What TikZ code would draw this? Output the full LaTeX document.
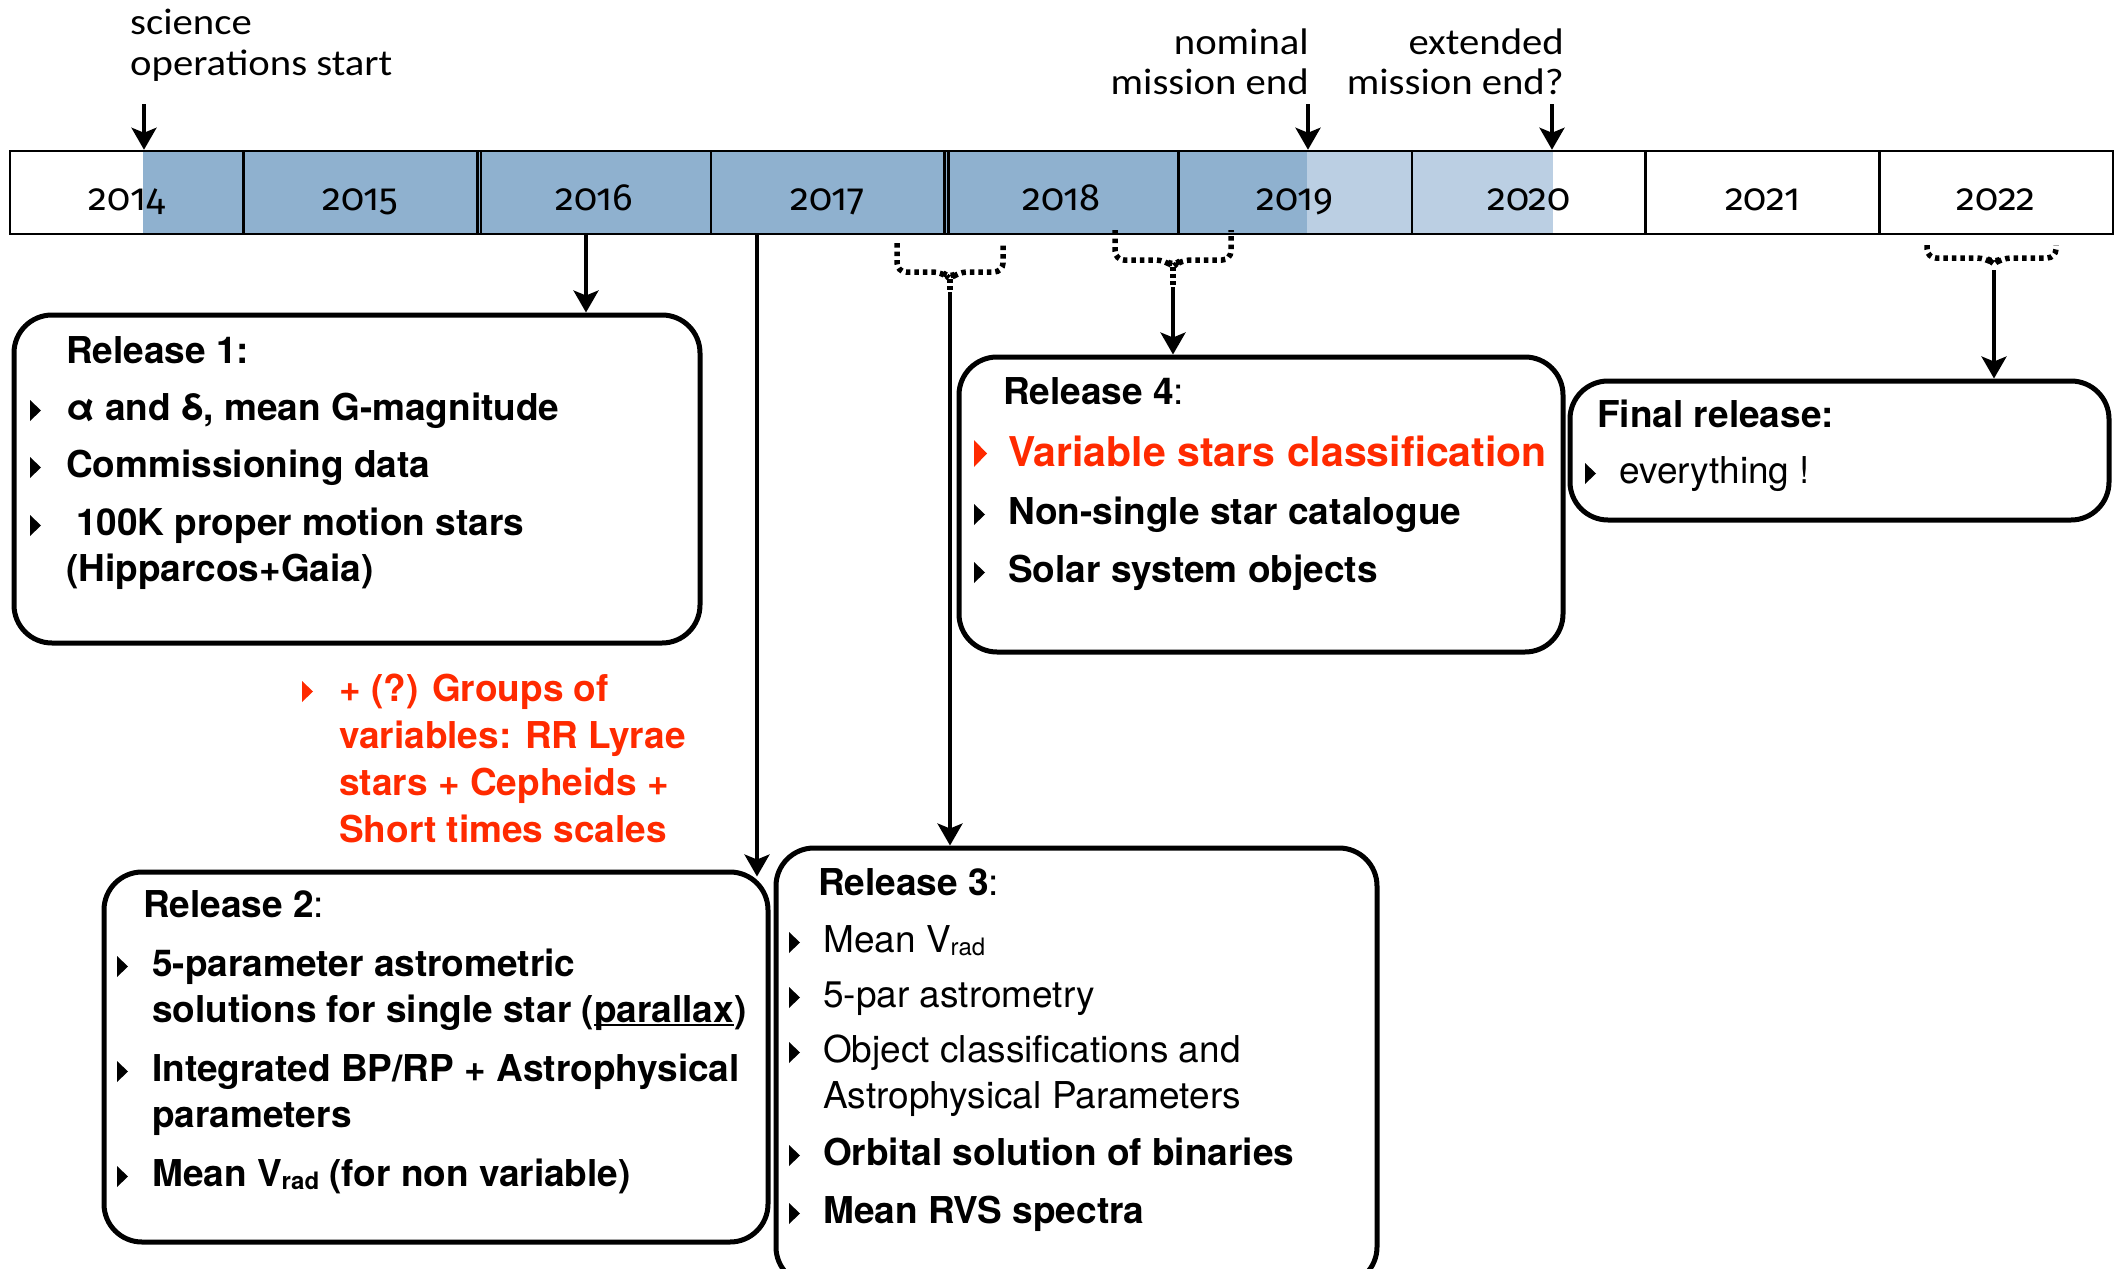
\documentclass[tikz,border=0pt]{standalone}
\usepackage{fontspec}
\usetikzlibrary{arrows.meta,calc}
\newfontfamily\heros{TeX Gyre Heros}
\newfontfamily\corb[FakeStretch=1.1]{Carlito}
\newfontfamily\yearfont[Numbers=OldStyle]{Fira Sans}
\definecolor{opsblue}{HTML}{8FB1CF}
\definecolor{extblue}{HTML}{BBCFE3}
\definecolor{hilite}{HTML}{FF2A00}
% small right-pointing triangle used as list bullet: [colour]{x}{baseline}
\newcommand\bul[3][black]{\fill[#1] (#2,#3+1) -- (#2,#3-20) -- (#2+11,#3-9.5) -- cycle;}
\newcommand\vrad{V\raisebox{-3pt}{\fontsize{24}{24}\selectfont rad}}
% underline sitting just under the baseline
\newcommand\ulin[1]{\setbox0\hbox{#1}\rlap{\rule[-4pt]{\wd0}{2pt}}\box0}
\begin{document}
\begin{tikzpicture}[x=1pt,y=-1pt,
  box/.style={draw, line width=5pt, rounded corners=38pt, inner sep=0pt},
  cell/.style={draw, line width=2.5pt, minimum width=233.67pt, minimum height=83pt, inner sep=0pt},
  yr/.style={anchor=base, inner sep=0pt, font=\yearfont\fontsize{38}{38}\selectfont},
  toplbl/.style={inner sep=0pt, font=\corb\fontsize{37}{36}\selectfont},
  itm/.style={anchor=base west, inner sep=0pt, font=\heros\fontsize{37}{46}\selectfont},
  arr/.style={line width=3.5pt, -{Stealth[length=22pt,width=25pt,inset=5pt]}},
  brace/.style={line width=5.5pt, dash pattern=on 4.5pt off 4pt, rounded corners=9pt},
  stem/.style={line width=5.5pt, dash pattern=on 4pt off 3pt},
]
\useasboundingbox (0,0) rectangle (2121,1269);
\clip (0,0) rectangle (2121,1269);

% ---- mission timeline ----
\fill[opsblue] (143,151) rectangle (1307,234);
\fill[extblue] (1307,151) rectangle (1553,234);
\foreach \y [count=\k from 0] in {2014,2015,2016,2017,2018,2019,2020,2021,2022} {
  \node[cell] (c\y) at ({10+233.67*(\k+0.5)},192.5) {};
  \node[yr] (l\y) at ({10+233.67*(\k+0.5)},210) {\y};
}
\draw[line width=2.5pt] (481,151) -- (481,234);
\draw[line width=2.5pt] (948.5,151) -- (948.5,234);

% ---- mission milestones ----
\node[toplbl, anchor=base west] (sci1) at (130,34) {science};
\node[toplbl, anchor=base west] (sci2) at (130,75) {operations start};
\node[toplbl, anchor=base east] (nom1) at (1309,54) {nominal};
\node[toplbl, anchor=base east] (nom2) at (1309,94) {mission end};
\node[toplbl, anchor=base east] (ext1) at (1564,54) {extended};
\node[toplbl, anchor=base east] (ext2) at (1564,94) {mission end?};
\coordinate (s0) at (144,104);
\coordinate (n0) at (1308,104);
\coordinate (e0) at (1552,104);
\draw[arr] (s0) -- (c2014.north -| s0);
\draw[arr] (n0) -- (c2019.north -| n0);
\draw[arr] (e0) -- (c2020.north -| e0);

% ---- release boxes ----
\node[box, minimum width=686pt, minimum height=328pt] (rel1) at (357,479) {};
\node[box, minimum width=664pt, minimum height=370pt] (rel2) at (436,1057) {};
\node[box, minimum width=601pt, minimum height=437pt] (rel3) at (1076.5,1066.5) {};
\node[box, minimum width=604pt, minimum height=295pt] (rel4) at (1261,504.5) {};
\node[box, minimum width=539pt, minimum height=139pt] (relF) at (1839.5,450.5) {};

% ---- connectors ----
\coordinate (a1) at (586,234);
\coordinate (a2) at (757,234);
\draw[arr] (a1) -- (rel1.north -| a1);
\draw[arr] (a2) -- ($(rel2.north -| a2)+(0,7)$);

\draw[brace] (897,243) -- (897,272) -- (942,272) -- (950,279) -- (958,272) -- (1003,272) -- (1003,243);
\coordinate (b3) at (950,292);
\draw[stem] (950,279) -- (b3);
\draw[arr] (b3) -- (rel3.north -| b3);

\draw[brace] (1115,230) -- (1115,260) -- (1165,260) -- (1173,267) -- (1181,260) -- (1231,260) -- (1231,230);
\coordinate (b4) at (1173,287);
\draw[stem] (1173,267) -- (b4);
\draw[arr] (b4) -- (rel4.north -| b4);

\draw[brace] (1927,245) -- (1927,258) -- (1986,258) -- (1994,264) -- (2002,258) -- (2056,258) -- (2056,245);
\coordinate (bF) at (1994,270);
\draw[arr] (bF) -- (relF.north -| bF);

% ---- Release 1 ----
\node[itm] (r1t) at (66,363) {\bfseries Release 1:};
\bul{30}{420}\node[itm] (r1a) at (66,420) {\bfseries α and δ, mean G-magnitude};
\bul{30}{477}\node[itm] (r1b) at (66,477) {\bfseries Commissioning data};
\bul{30}{535}\node[itm] (r1c) at (76,535) {\bfseries 100K proper motion stars};
\node[itm] (r1d) at (66,581) {\bfseries (Hipparcos+Gaia)};

% ---- variable star groups ----
\bul[hilite]{302}{701}
\node[itm, text=hilite] (g1) at (339,701) {\bfseries + (?) Groups of};
\node[itm, text=hilite] (g2) at (339,748) {\bfseries variables: RR Lyrae};
\node[itm, text=hilite] (g3) at (339,795) {\bfseries stars + Cepheids +};
\node[itm, text=hilite] (g4) at (339,842) {\bfseries Short times scales};

% ---- Release 2 ----
\node[itm] (r2t) at (143,917) {{\bfseries Release 2}:};
\bul{117}{976}\node[itm] (r2a) at (152,976) {\bfseries 5-parameter astrometric};
\node[itm] (r2b) at (152,1022) {\bfseries solutions for single star (\ulin{parallax})};
\bul{117}{1081}\node[itm] (r2c) at (152,1081) {\bfseries Integrated BP/RP + Astrophysical};
\node[itm] (r2d) at (152,1127) {\bfseries parameters};
\bul{117}{1186}\node[itm] (r2e) at (152,1186) {\bfseries Mean \vrad\ (for non variable)};

% ---- Release 3 ----
\node[itm] (r3t) at (818,895) {{\bfseries Release 3}:};
\bul{789}{952}\node[itm] (r3a) at (823,952) {Mean \vrad};
\bul{789}{1007}\node[itm] (r3b) at (823,1007) {5-par astrometry};
\bul{789}{1062}\node[itm] (r3c) at (823,1062) {Object classifications and};
\node[itm] (r3d) at (823,1108) {Astrophysical Parameters};
\bul{789}{1165}\node[itm] (r3e) at (823,1165) {\bfseries Orbital solution of binaries};
\bul{789}{1223}\node[itm] (r3f) at (823,1223) {\bfseries Mean RVS spectra};

% ---- Release 4 ----
\node[itm] (r4t) at (1003,404) {{\bfseries Release 4}:};
\fill[hilite] (974,467) -- (974,440) -- (987,453.5) -- cycle;
\node[itm, text=hilite, font=\heros\fontsize{41}{46}\selectfont] (r4a) at (1008,466) {\bfseries Variable stars classification};
\bul{974}{524}\node[itm] (r4b) at (1008,524) {\bfseries Non-single star catalogue};
\bul{974}{582}\node[itm] (r4c) at (1008,582) {\bfseries Solar system objects};

% ---- Final release ----
\node[itm] (rFt) at (1597,427) {\bfseries Final release:};
\bul{1585}{483}\node[itm] (rFa) at (1619,483) {everything !};
\end{tikzpicture}
\end{document}
